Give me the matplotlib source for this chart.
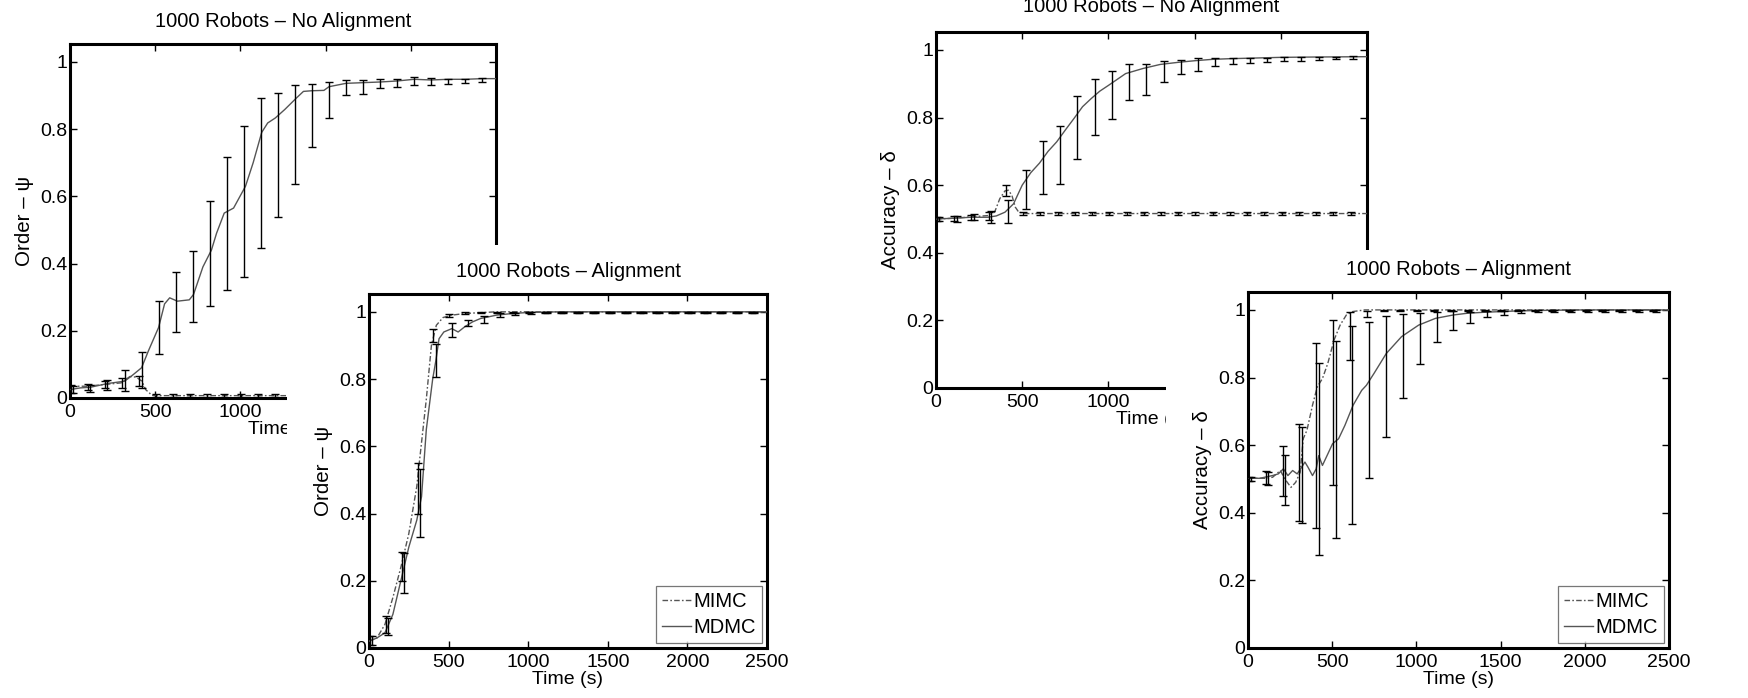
import matplotlib
matplotlib.use("Agg")
import matplotlib.pyplot as plt
from matplotlib.patches import Rectangle

plt.rcParams['font.family'] = ['Liberation Sans', 'DejaVu Sans']

# ---------------- data ----------------
X_TICKS = [0, 500, 1000, 1500, 2000, 2500]
X_TICKLABELS = ['0', '500', '1000', '1500', '2000', '2500']
Y_TICKS = [0, 0.2, 0.4, 0.6, 0.8, 1.0]
Y_TICKLABELS = ['0', '0.2', '0.4', '0.6', '0.8', '1']
SERIES = ['MIMC', 'MDMC']

EB_T_MIMC = [5, 105, 205, 305, 405, 505, 605, 705, 805, 905, 1005, 1105, 1205,
             1305, 1405, 1505, 1605, 1705, 1805, 1905, 2005, 2105, 2205, 2305, 2405]
EB_T_MDMC = [20, 120, 220, 320, 420, 520, 620, 720, 820, 920, 1020, 1120, 1220,
             1320, 1420, 1520, 1620, 1720, 1820, 1920, 2020, 2120, 2220, 2320, 2420]

# Panel 1: Order, no alignment
P1_MIMC_T = [0, 100, 200, 300, 352, 389, 422, 444, 481, 520, 2500]
P1_MIMC_V = [0.035, 0.035, 0.04, 0.045, 0.064, 0.062, 0.05, 0.025, 0.008, 0.007, 0.007]
P1_MDMC_T = [0, 60, 120, 220, 320, 360, 420, 460, 520, 555, 585, 630, 700, 725, 780, 830,
             860, 905, 960, 1030, 1075, 1125, 1160, 1205, 1260, 1330, 1370, 1420, 1490,
             1520, 1620, 1720, 1820, 1920, 2020, 2120, 2220, 2320, 2420, 2500]
P1_MDMC_V = [0.025, 0.03, 0.032, 0.043, 0.05, 0.065, 0.09, 0.14, 0.21, 0.28, 0.298, 0.288,
             0.292, 0.308, 0.39, 0.44, 0.49, 0.55, 0.565, 0.63, 0.70, 0.79, 0.818, 0.833,
             0.858, 0.893, 0.912, 0.914, 0.915, 0.926, 0.936, 0.938, 0.94, 0.943, 0.948,
             0.946, 0.948, 0.948, 0.95, 0.95]
P1_MIMC_LO = [0.015, 0.025, 0.03, 0.03, 0.035] + [0.004] * 20
P1_MIMC_HI = [0.04, 0.042, 0.05, 0.06, 0.064] + [0.012] * 20
P1_MDMC_LO = [0.015, 0.018, 0.023, 0.02, 0.03, 0.13, 0.195, 0.225, 0.273, 0.322, 0.36,
              0.446, 0.539, 0.637, 0.748, 0.832, 0.90, 0.903, 0.921, 0.924, 0.93, 0.932,
              0.935, 0.936, 0.94]
P1_MDMC_HI = [0.035, 0.04, 0.054, 0.084, 0.136, 0.29, 0.375, 0.4375, 0.585, 0.717, 0.81,
              0.892, 0.908, 0.93, 0.933, 0.939, 0.946, 0.946, 0.948, 0.95, 0.955, 0.952,
              0.95, 0.95, 0.953]

# Panel 2: Order, alignment
P2_MIMC_T = [0, 50, 100, 150, 200, 250, 300, 318, 360, 392, 423, 465, 520, 600, 800, 2500]
P2_MIMC_V = [0.02, 0.03, 0.07, 0.15, 0.24, 0.34, 0.48, 0.56, 0.74, 0.9, 0.96, 0.983, 0.99,
             0.995, 1.0, 1.0]
P2_MDMC_T = [0, 50, 100, 150, 200, 250, 300, 330, 360, 400, 420, 440, 470, 520, 560, 600,
             650, 700, 800, 900, 1000, 1200, 2500]
P2_MDMC_V = [0.02, 0.03, 0.045, 0.1, 0.2, 0.3, 0.38, 0.45, 0.65, 0.8, 0.855, 0.92, 0.94,
             0.95, 0.94, 0.955, 0.97, 0.98, 0.99, 0.995, 0.998, 1.0, 1.0]
P2_MIMC_LO = [0.01, 0.044, 0.198, 0.40, 0.91, 0.985, 0.993] + [0.997] * 18
P2_MIMC_HI = [0.035, 0.094, 0.287, 0.55, 0.95, 0.993, 0.998] + [1.0] * 18
P2_MDMC_LO = [0.01, 0.04, 0.163, 0.33, 0.805, 0.924, 0.958, 0.967, 0.985, 0.99, 0.993] + [0.997] * 14
P2_MDMC_HI = [0.035, 0.09, 0.282, 0.533, 0.904, 0.968, 0.975, 0.988, 0.995, 0.997, 0.999] + [1.0] * 14

# Panel 3: Accuracy, no alignment
P3_MIMC_T = [0, 100, 200, 300, 340, 370, 400, 420, 440, 460, 480, 520, 2500]
P3_MIMC_V = [0.5, 0.502, 0.506, 0.51, 0.52, 0.56, 0.583, 0.585, 0.57, 0.535, 0.52, 0.516, 0.516]
P3_MDMC_T = [0, 100, 200, 300, 350, 400, 450, 500, 550, 600, 650, 700, 750, 800, 850, 900,
             950, 1000, 1100, 1200, 1300, 1400, 1500, 1600, 1700, 1850, 2000, 2200, 2500]
P3_MDMC_V = [0.5, 0.502, 0.505, 0.505, 0.509, 0.52, 0.545, 0.6, 0.637, 0.665, 0.7, 0.728,
             0.763, 0.797, 0.832, 0.856, 0.878, 0.895, 0.93, 0.945, 0.957, 0.963, 0.968,
             0.972, 0.974, 0.976, 0.978, 0.979, 0.98]
P3_MIMC_LO = [0.495, 0.495, 0.497, 0.496, 0.567] + [0.511] * 20
P3_MIMC_HI = [0.507, 0.508, 0.512, 0.52, 0.599] + [0.52] * 20
P3_MDMC_LO = [0.495, 0.492, 0.496, 0.489, 0.489, 0.53, 0.573, 0.604, 0.677, 0.747, 0.796,
              0.851, 0.866, 0.904, 0.93, 0.939, 0.951, 0.958, 0.962, 0.965, 0.967, 0.968,
              0.97, 0.972, 0.972]
P3_MDMC_HI = [0.507, 0.509, 0.515, 0.525, 0.555, 0.645, 0.731, 0.776, 0.864, 0.913, 0.939,
              0.959, 0.959, 0.967, 0.969, 0.976, 0.976, 0.976, 0.976, 0.977, 0.979, 0.98,
              0.98, 0.98, 0.982]

# Panel 4: Accuracy, alignment
P4_MIMC_T = [0, 100, 146, 192, 219, 255, 283, 310, 328, 350, 383, 411, 442, 474, 511, 547,
             584, 620, 693, 2500]
P4_MIMC_V = [0.502, 0.502, 0.505, 0.525, 0.5, 0.475, 0.49, 0.52, 0.619, 0.644, 0.718, 0.772,
             0.797, 0.842, 0.911, 0.955, 0.985, 0.995, 1.0, 1.0]
P4_MDMC_T = [0, 70, 145, 180, 210, 237, 265, 292, 319, 338, 356, 383, 405, 420, 442, 474,
             502, 538, 575, 624, 675, 703, 748, 821, 912, 1013, 1113, 1219, 1300, 1400, 1600,
             1800, 2000, 2500]
P4_MDMC_V = [0.502, 0.502, 0.51, 0.515, 0.53, 0.51, 0.525, 0.515, 0.535, 0.55, 0.535, 0.51,
             0.53, 0.569, 0.54, 0.574, 0.604, 0.619, 0.658, 0.718, 0.762, 0.777, 0.812, 0.871,
             0.921, 0.955, 0.975, 0.985, 0.99, 0.993, 0.997, 0.999, 1.0, 1.0]
P4_MIMC_LO = [0.495, 0.485, 0.449, 0.376, 0.356, 0.483, 0.851, 0.98] + [0.997] * 17
P4_MIMC_HI = [0.505, 0.524, 0.597, 0.663, 0.903, 0.97, 0.993, 0.998] + [1.0] * 17
P4_MDMC_LO = [0.495, 0.483, 0.424, 0.371, 0.274, 0.325, 0.366, 0.503, 0.624, 0.738, 0.84,
              0.904, 0.94, 0.96, 0.98, 0.985, 0.99] + [0.995] * 8
P4_MDMC_HI = [0.505, 0.52, 0.571, 0.653, 0.842, 0.909, 0.953, 0.965, 0.983, 0.988, 0.992,
              0.994, 0.996, 0.995, 0.997, 0.998, 0.999] + [1.0] * 8

TITLES = ['1000 Robots – No Alignment', '1000 Robots – Alignment',
          '1000 Robots – No Alignment', '1000 Robots – Alignment']
YLABELS = ['Order – ψ', 'Order – ψ', 'Accuracy – δ', 'Accuracy – δ']
XLABEL = 'Time (s)'

# ---------------- styling ----------------
W, H = 1748, 698
fig = plt.figure(figsize=(W / 100, H / 100), dpi=100)

LINE_C = '#555555'
MIMC_DASH = (4, 1.6, 1.2, 1.6)
FS_TICK = 14
FS_TITLE = 14.5
FS_YLAB = 14.8


def px_axes(left, top, right, bottom):
    return [left / W, 1 - bottom / H, (right - left) / W, (bottom - top) / H]


def draw_panel(rect, title, ylabel, mimc, mdmc, legend, title_pad=12.5):
    ax = fig.add_axes(px_axes(*rect))
    ax.set_facecolor('white')
    (mt, mv, mlo, mhi), (dt, dv, dlo, dhi) = mimc, mdmc
    ax.plot(mt, mv, color=LINE_C, lw=1.0, dashes=MIMC_DASH, label=SERIES[0], zorder=3)
    ax.plot(dt, dv, color=LINE_C, lw=1.0, ls='-', label=SERIES[1], zorder=3)
    for t, lo, hi in ((EB_T_MIMC, mlo, mhi), (EB_T_MDMC, dlo, dhi)):
        mid = [(a + b) / 2 for a, b in zip(lo, hi)]
        err = [(b - a) / 2 for a, b in zip(lo, hi)]
        ax.errorbar(t, mid, yerr=err, fmt='none', ecolor='black', elinewidth=1.0,
                    capsize=3.2, capthick=1.0, zorder=4)
    ax.set_xlim(0, 2500)
    ax.set_ylim(0, 1.053)
    ax.set_xticks(X_TICKS)
    ax.set_xticklabels(X_TICKLABELS)
    ax.set_yticks(Y_TICKS)
    ax.set_yticklabels(Y_TICKLABELS)
    ax.tick_params(direction='in', length=5, width=1.0, top=True, right=True,
                   labelsize=FS_TICK, color='black')
    ax.tick_params(axis='y', pad=2)
    ax.tick_params(axis='x', pad=4)
    for s in ax.spines.values():
        s.set_linewidth(2.2)
        s.set_color('black')
    ax.set_title(title, fontsize=FS_TITLE, pad=title_pad)
    ax.set_ylabel(ylabel, fontsize=FS_YLAB, labelpad=4)
    ax.set_xlabel(XLABEL, fontsize=FS_TICK, labelpad=0)
    if legend:
        leg = ax.legend(loc='lower right', fontsize=FS_TICK + 0.5, frameon=True, fancybox=False,
                        borderpad=0.3, labelspacing=0.35, handlelength=1.45,
                        handletextpad=0.1, borderaxespad=0.25)
        leg.get_frame().set_edgecolor('#555555')
        leg.get_frame().set_linewidth(0.9)
    return ax


ax1 = draw_panel((70, 44, 496, 398), TITLES[0], YLABELS[0],
                 (P1_MIMC_T, P1_MIMC_V, P1_MIMC_LO, P1_MIMC_HI),
                 (P1_MDMC_T, P1_MDMC_V, P1_MDMC_LO, P1_MDMC_HI), False)
ax3 = draw_panel((936, 32, 1367, 388), TITLES[2], YLABELS[2],
                 (P3_MIMC_T, P3_MIMC_V, P3_MIMC_LO, P3_MIMC_HI),
                 (P3_MDMC_T, P3_MDMC_V, P3_MDMC_LO, P3_MDMC_HI), False, title_pad=14.5)
ax1.set_zorder(1)
ax3.set_zorder(1)

# white backgrounds of the overlaid panels
fig.add_artist(Rectangle((287 / W, 0), (800 - 287) / W, (H - 245) / H,
                         transform=fig.transFigure, facecolor='white', edgecolor='none',
                         zorder=2))
fig.add_artist(Rectangle((1166 / W, 0), (W - 1166) / W, (H - 250) / H,
                         transform=fig.transFigure, facecolor='white', edgecolor='none',
                         zorder=2))

ax2 = draw_panel((369, 294, 767, 648), TITLES[1], YLABELS[1],
                 (P2_MIMC_T, P2_MIMC_V, P2_MIMC_LO, P2_MIMC_HI),
                 (P2_MDMC_T, P2_MDMC_V, P2_MDMC_LO, P2_MDMC_HI), True)
ax4 = draw_panel((1248, 292, 1669, 648), TITLES[3], YLABELS[3],
                 (P4_MIMC_T, P4_MIMC_V, P4_MIMC_LO, P4_MIMC_HI),
                 (P4_MDMC_T, P4_MDMC_V, P4_MDMC_LO, P4_MDMC_HI), True)
ax2.set_zorder(3)
ax4.set_zorder(3)

fig.savefig('out.png', dpi=100, facecolor='white')
